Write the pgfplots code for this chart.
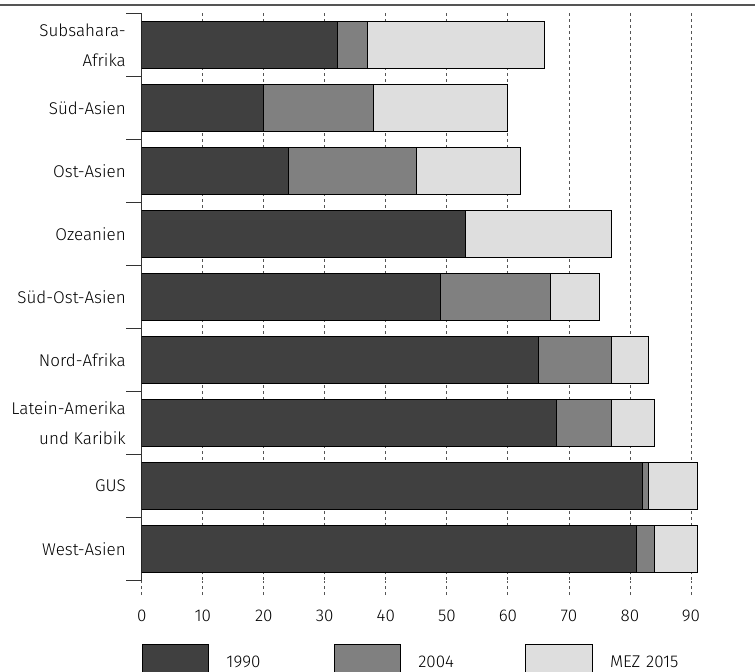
\documentclass[border=0pt]{standalone}
\usepackage{fontspec}
\setmainfont{Fira Sans}[UprightFont={* Light}]
\usepackage{pgfplots}
\usepackage{pgfplotstable}
\pgfplotsset{compat=1.18}

\definecolor{c1990}{HTML}{404040}
\definecolor{c2004}{HTML}{808080}
\definecolor{c2015}{HTML}{DEDEDE}
\definecolor{gridc}{HTML}{555555}

% Anteile je Region, Reihenfolge von oben nach unten
\pgfplotstableread{
pos a1990 a2004 a2015
0 32 5 29
1 20 18 22
2 24 21 17
3 53 0 24
4 49 18 8
5 65 12 6
6 68 9 7
7 82 1 8
8 81 3 7
}\data

\begin{document}
\begin{tikzpicture}
\draw[line width=1.2pt, color=gridc] (0pt,-5pt) -- (755pt,-5pt);
\begin{axis}[
    at={(141.7pt,-580.7pt)}, anchor=south west,
    scale only axis,
    width=610.3pt, height=567.4pt,
    xbar stacked,
    bar width=0.75,
    xmin=0, xmax=100,
    ymin=-0.5, ymax=8.5,
    y dir=reverse,
    axis lines=left,
    x axis line style={draw=none},
    y axis line style={-, color=black!80, line width=0.8pt},
    xtick={0,10,...,90},
    ytick={0,...,8},
    yticklabels={{Subsahara-\\Afrika},{Süd-Asien},{Ost-Asien},{Ozeanien},{Süd-Ost-Asien},{Nord-Afrika},{Latein-Amerika\\und Karibik},{GUS},{West-Asien}},
    minor ytick={-0.5,0.5,...,8.5},
    tick align=outside,
    major tick length=14.3pt,
    minor tick length=15.7pt,
    major y tick style={draw=none},
    minor y tick style={color=black!80, line width=0.8pt},
    major x tick style={color=gridc, line width=0.8pt, dash pattern=on 3pt off 3pt},
    xmajorgrids,
    grid style={color=gridc, line width=0.8pt, dash pattern=on 3pt off 3pt},
    /pgf/number format/assume math mode=true,
    xticklabel style={font=\fontsize{17}{20}\selectfont, yshift=-11pt},
    yticklabel style={font=\fontsize{17}{30}\selectfont, align=right, inner xsep=1.5pt},
    every axis plot/.append style={draw=black, line width=0.8pt},
    legend style={at={(0,-0.1116)}, anchor=north west, draw=none, inner sep=0pt,
        legend columns=3,
        font=\fontsize{17}{20}\selectfont,
        nodes={text width=80pt, inner sep=0pt, anchor=west, yshift=1.5pt},
        /tikz/every odd column/.append style={column sep=17.3pt},
        /tikz/every even column/.append style={column sep=27.2pt}},
    legend image code/.code={\draw[#1, draw=black, line width=0.8pt] (0pt,-19.5pt) rectangle (66.5pt,19.5pt);},
]
\addplot[fill=c1990] table[x=a1990, y=pos] {\data};
\addplot[fill=c2004] table[x=a2004, y=pos] {\data};
\addplot[fill=c2015] table[x=a2015, y=pos] {\data};
\legend{1990,2004,MEZ 2015}
\end{axis}
\pgfresetboundingbox
\path[use as bounding box] (0pt,0pt) rectangle (755pt,-672pt);
\end{tikzpicture}
\end{document}
